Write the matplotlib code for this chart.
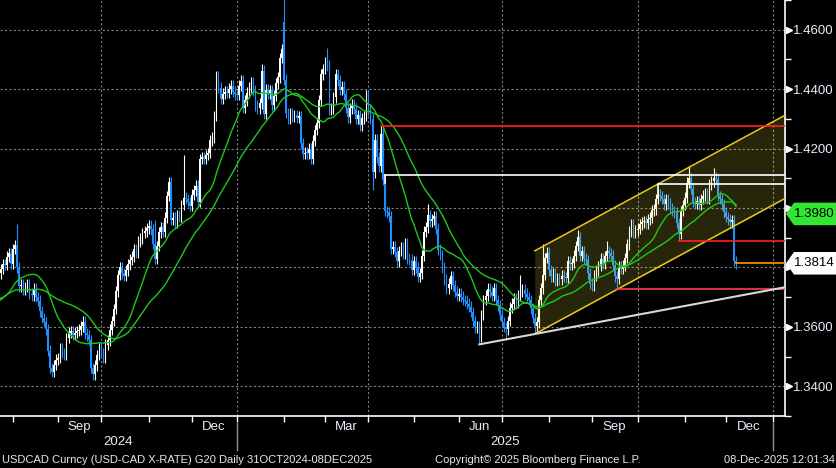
import numpy as np
import pandas as pd
import matplotlib
matplotlib.use("Agg")
import matplotlib.pyplot as plt
import matplotlib.transforms as mtransforms
from matplotlib.patches import Polygon

plt.rcParams['font.family'] = ['Liberation Sans', 'DejaVu Sans']

# daily USDCAD closes, first value 29-May-2024 (weekdays only)
closes = [
    # 2024-05
    1.3712, 1.3688, 1.3632,
    # 2024-06
    1.3640, 1.3678, 1.3690, 1.3676, 1.3758, 1.3752, 1.3756, 1.3722, 1.3742, 1.3736,
    1.3720, 1.3712, 1.3708, 1.3700, 1.3694, 1.3652, 1.3668, 1.3708, 1.3702, 1.3680,
    # 2024-07
    1.3738, 1.3682, 1.3640, 1.3636, 1.3648, 1.3652, 1.3640, 1.3630, 1.3662, 1.3672,
    1.3686, 1.3680, 1.3692, 1.3714, 1.3728, 1.3760, 1.3780,
    1.3795, 1.3812, 1.3808, 1.3836, 1.3848, 1.3812,
    # 2024-08
    1.3862, 1.3874, 1.3800, 1.3736, 1.3742, 1.3724, 1.3734, 1.3742, 1.3712, 1.3706,
    1.3728, 1.3700, 1.3688, 1.3652, 1.3630, 1.3616, 1.3592, 1.3520, 1.3462, 1.3448,
    1.3472, 1.3490,
    # 2024-09
    1.3495, 1.3528, 1.3512, 1.3508, 1.3562, 1.3580, 1.3586, 1.3574, 1.3580, 1.3586,
    1.3590, 1.3602, 1.3618, 1.3578, 1.3572, 1.3556, 1.3462, 1.3440, 1.3470, 1.3505,
    1.3528,
    # 2024-10
    1.3512, 1.3498, 1.3540, 1.3555, 1.3590, 1.3620, 1.3660, 1.3720, 1.3775, 1.3800,
    1.3780, 1.3772, 1.3790, 1.3810, 1.3826, 1.3836, 1.3862, 1.3850, 1.3888, 1.3898,
    1.3916, 1.3922, 1.3932,
    # 2024-11
    1.3940, 1.3928, 1.3880, 1.3830, 1.3872, 1.3918, 1.3935, 1.3920, 1.3968, 1.4040,
    1.4088, 1.3960, 1.3968, 1.3950, 1.3975, 1.3972, 1.4010, 1.4035, 1.4030, 1.4020,
    1.4008,
    # 2024-12
    1.4045, 1.4060, 1.4075, 1.4020, 1.4165, 1.4172, 1.4165, 1.4178, 1.4185, 1.4228,
    1.4238, 1.4310, 1.4442, 1.4405, 1.4368, 1.4385, 1.4392, 1.4388, 1.4402, 1.4412,
    1.4392, 1.4382,
    # 2025-01
    1.4380, 1.4412, 1.4428, 1.4338, 1.4362, 1.4388, 1.4405, 1.4422, 1.4395, 1.4345,
    1.4335, 1.4352, 1.4462, 1.4318, 1.4398, 1.4386, 1.4396, 1.4346, 1.4378, 1.4420,
    1.4440, 1.4505, 1.4535,
    # 2025-02
    1.4432, 1.4320, 1.4302, 1.4318, 1.4306, 1.4312, 1.4304, 1.4310, 1.4218, 1.4182,
    1.4186, 1.4184, 1.4200, 1.4166, 1.4226, 1.4262, 1.4286, 1.4362, 1.4450, 1.4468,
    # 2025-03
    1.4490, 1.4480, 1.4332, 1.4336, 1.4372, 1.4450, 1.4430, 1.4398, 1.4408, 1.4382,
    1.4338, 1.4305, 1.4336, 1.4348, 1.4334, 1.4300, 1.4312, 1.4278, 1.4302, 1.4310,
    1.4378,
    # 2025-04
    1.4330, 1.4300, 1.4120, 1.4230, 1.4170, 1.4140, 1.4250, 1.4095, 1.3990, 1.3985,
    1.3972, 1.3862, 1.3870, 1.3852, 1.3820, 1.3855, 1.3868, 1.3845, 1.3880, 1.3830,
    1.3826, 1.3792,
    # 2025-05
    1.3822, 1.3800, 1.3768, 1.3780, 1.3840, 1.3920, 1.3935, 1.3975, 1.3955, 1.3962,
    1.3972, 1.3930, 1.3860, 1.3842, 1.3800, 1.3760, 1.3730, 1.3745, 1.3770, 1.3740,
    1.3718, 1.3705,
    # 2025-06
    1.3712, 1.3702, 1.3690, 1.3688, 1.3678, 1.3668, 1.3650, 1.3620, 1.3598, 1.3602,
    1.3568, 1.3640, 1.3690, 1.3705, 1.3728, 1.3718, 1.3705, 1.3730, 1.3690, 1.3672,
    1.3640,
    # 2025-07
    1.3615, 1.3600, 1.3592, 1.3620, 1.3665, 1.3678, 1.3695, 1.3680, 1.3705, 1.3720,
    1.3725, 1.3712, 1.3700, 1.3690, 1.3662, 1.3630, 1.3602, 1.3615, 1.3690, 1.3730,
    1.3775, 1.3832, 1.3850,
    # 2025-08
    1.3790, 1.3770, 1.3780, 1.3755, 1.3762, 1.3760, 1.3772, 1.3768, 1.3765, 1.3820,
    1.3810, 1.3815, 1.3840, 1.3872, 1.3902, 1.3838, 1.3855, 1.3830, 1.3825, 1.3780,
    1.3745,
    # 2025-09
    1.3740, 1.3772, 1.3790, 1.3805, 1.3830, 1.3812, 1.3838, 1.3855, 1.3848, 1.3840,
    1.3808, 1.3770, 1.3762, 1.3802, 1.3795, 1.3806, 1.3832, 1.3878, 1.3920, 1.3945,
    1.3918, 1.3925,
    # 2025-10
    1.3930, 1.3945, 1.3952, 1.3955, 1.3948, 1.3962, 1.3968, 1.3992, 1.3996, 1.4030,
    1.4045, 1.4040, 1.4030, 1.4012, 1.4030, 1.4015, 1.4000, 1.3990, 1.3985, 1.3950,
    1.3912, 1.3990, 1.4010,
    # 2025-11
    1.4035, 1.4085, 1.4100, 1.4065, 1.4020, 1.4015, 1.4022, 1.4010, 1.4030, 1.4042,
    1.4048, 1.4030, 1.4078, 1.4090, 1.4102, 1.4098, 1.4040, 1.4030, 1.4012, 1.3985,
    # 2025-12
    1.3970, 1.3962, 1.3952, 1.3958, 1.3822, 1.3814,
]

# gap opens (otherwise open = previous close)
open_dates = ['2025-02-03']
open_vals = [1.4626]

# notable wicks
hi_dates = ['2024-08-05', '2024-11-06', '2024-11-26', '2025-01-17', '2025-02-03', '2025-03-04',
            '2025-04-09', '2025-05-12', '2025-07-14', '2025-07-29', '2025-08-21', '2025-09-10',
            '2025-11-05', '2025-11-21']
hi_vals = [1.3946, 1.3960, 1.4178, 1.4485, 1.4793, 1.4540,
           1.4277, 1.4015, 1.3776, 1.3880, 1.3925, 1.3888,
           1.4143, 1.4133]
lo_dates = ['2024-09-25', '2025-04-03', '2025-06-16', '2025-07-03', '2025-07-23', '2025-09-17', '2025-10-29']
lo_vals = [1.3420, 1.4060, 1.3541, 1.3557, 1.3576, 1.3728, 1.3889]

# drawn levels
level_dates = ['2025-04-09', '2025-04-11', '2025-10-15', '2025-10-29', '2025-09-17', '2025-12-08']
level_vals = [1.4276, 1.4111, 1.4082, 1.3889, 1.3728, 1.3814]
level_stub = [None, 1.4084, 1.4043, None, None, None]
level_colors = ['#ff2020', '#ffffff', '#ffffff', '#ff2020', '#ff3a55', '#ff9a00']

trend_dates = ['2025-06-16', '2026-01-30']
trend_vals = [1.3541, 1.3753]

chan_dates = ['2025-07-23', '2026-01-30']
chan_upper = [1.3856, 1.4369]
chan_lower = [1.3576, 1.4089]

tag_vals = [1.3980, 1.3814]
tag_colors = ['#33e633', '#ffffff']

yticks = [1.34, 1.36, 1.38, 1.40, 1.42, 1.44, 1.46]
ytick_labels = ['1.3400', '1.3600', '', '', '1.4200', '1.4400', '1.4600']
month_labels = ['Sep', 'Dec', 'Mar', 'Jun', 'Sep', 'Dec']
month_label_dates = ['2024-09-01', '2024-12-01', '2025-03-01', '2025-06-01', '2025-09-01', '2025-12-01']

days = pd.bdate_range('2024-05-29', '2026-03-31')
def pos(d):
    return days.searchsorted(pd.Timestamp(d))

c = np.array(closes)
x = np.arange(len(c))
o = np.r_[c[0], c[:-1]]
for d, v in zip(open_dates, open_vals):
    o[pos(d)] = v
wick = 0.0018
hi = np.maximum(o, c) + wick
lo = np.minimum(o, c) - wick
for d, v in zip(hi_dates, hi_vals):
    hi[pos(d)] = v
for d, v in zip(lo_dates, lo_vals):
    lo[pos(d)] = v
up = c >= o
body_lo = np.minimum(o, c)
body_h = np.maximum(np.abs(c - o), 0.0003)

BLUE = '#1e8fff'
TXT = '#e6eef8'
fig = plt.figure(figsize=(8.37, 4.68), dpi=100, facecolor='black')
ax = fig.add_axes([0, 52 / 468, 785 / 837, 416 / 468], facecolor='black')

xl = (pos('2024-07-24') - 0.35, pos('2026-01-08') + 0.8)
ax.set_xlim(xl)
ax.set_ylim(1.33131, 1.46929)

# grid
gstyle = dict(color='#808080', ls=(0, (2, 2)), lw=0.8, zorder=0.5)
for v in yticks:
    ax.axhline(v, **gstyle)
for d in ['2024-10-01', '2025-01-01', '2025-04-01', '2025-07-01', '2025-10-01', '2026-01-01']:
    ax.axvline(pos(d), **gstyle)

# candles
ax.vlines(x[up], lo[up], hi[up], color='white', lw=0.8, zorder=2)
ax.vlines(x[~up], lo[~up], hi[~up], color=BLUE, lw=0.8, zorder=2)
ax.bar(x[up], body_h[up], bottom=body_lo[up], width=0.75, color='white', lw=0, zorder=2)
ax.bar(x[~up], body_h[~up], bottom=body_lo[~up], width=0.75, color=BLUE, lw=0, zorder=2)

# channel
cx = [pos(d) for d in chan_dates]
ax.fill_between(cx, chan_lower, chan_upper, color='#fff040', alpha=0.16, lw=0, zorder=2.5)
ax.plot(cx, chan_upper, color='#e8cc1a', lw=1.1, zorder=5)
ax.plot(cx, chan_lower, color='#e8cc1a', lw=1.1, zorder=5)

# moving averages
s = pd.Series(c)
for n in (20, 40):
    ax.plot(x, s.rolling(n).mean(), color='#1ec81e', lw=1.0, zorder=4)

# levels
for d, v, st, col in zip(level_dates, level_vals, level_stub, level_colors):
    x0 = pos(d)
    ax.plot([x0, xl[1] + 5], [v, v], color=col, lw=1.2, zorder=5)
    if st is not None:
        ax.plot([x0, x0], [v, st], color=col, lw=1.2, zorder=5)

ax.plot([pos(d) for d in trend_dates], trend_vals, color='#d8d8d8', lw=1.5, zorder=5)

# axes styling
for sp in ['left', 'top']:
    ax.spines[sp].set_visible(False)
for sp in ['right', 'bottom']:
    ax.spines[sp].set_color('white')
    ax.spines[sp].set_linewidth(1.2)

ax.yaxis.tick_right()
ax.set_yticks(yticks)
ax.set_yticklabels(ytick_labels)
ax.set_yticks(np.arange(1.33, 1.471, 0.02), minor=True)
ax.tick_params(axis='y', which='major', length=0, pad=6, labelsize=9.5, labelcolor=TXT)
ax.tick_params(axis='y', which='minor', length=4, width=1, color='white', direction='out')

tri = ax.get_yaxis_transform() + mtransforms.ScaledTranslation(4 / 100, 0, fig.dpi_scale_trans)
ax.plot(np.ones(len(yticks)), yticks, ls='none', marker='>', ms=5, color='white',
        transform=tri, clip_on=False, zorder=6)

mstarts = pd.date_range('2024-08-01', '2026-01-01', freq='MS')
ax.set_xticks([pos(d) for d in mstarts])
ax.set_xticklabels([])
ax.tick_params(axis='x', length=4, width=1, color='white', direction='out')

bt = mtransforms.blended_transform_factory(ax.transData, ax.transAxes)
for lab, d in zip(month_labels, month_label_dates):
    a = pos(d)
    b = pos(pd.Timestamp(d) + pd.offsets.MonthBegin(1))
    ax.text((a + b) / 2 - 0.5, -11 / 416, lab, transform=bt, ha='center', va='center',
            fontsize=9.5, color=TXT)

ynext = pos('2025-01-01')
yend = pos('2026-01-01')
ax.text((xl[0] + ynext) / 2, -26 / 416, '2024', transform=bt, ha='center', va='center',
        fontsize=9.5, color=TXT)
ax.text((ynext + yend) / 2, -26 / 416, '2025', transform=bt, ha='center', va='center',
        fontsize=9.5, color=TXT)
for xx in (ynext, yend):
    ax.plot([xx, xx], [-7 / 416, -34 / 416], transform=bt, clip_on=False, color='#909090', lw=1)

# value tags on the right
ft = mtransforms.blended_transform_factory(fig.transFigure, ax.transData)
hh = 0.0038
for v, col in zip(tag_vals, tag_colors):
    verts = [(786 / 837, v), (794 / 837, v + hh), (1.0, v + hh), (1.0, v - hh), (794 / 837, v - hh)]
    fig.add_artist(Polygon(verts, closed=True, transform=ft, facecolor=col, edgecolor='none', zorder=3))
    fig.text(814 / 837, v, '%.4f' % v, transform=ft, ha='center', va='center',
             fontsize=9.5, color='black', zorder=4)

# footer
fy = 1 - 460 / 468
fig.text(2 / 837, fy, 'USDCAD Curncy (USD-CAD X-RATE) G20 Daily 31OCT2024-08DEC2025',
         ha='left', va='center', fontsize=8, color='#e8e8e8')
fig.text(435 / 837, fy, 'Copyright\u00a9 2025 Bloomberg Finance L.P.',
         ha='left', va='center', fontsize=8, color='#e8e8e8')
fig.text(835 / 837, fy, '08-Dec-2025 12:01:34',
         ha='right', va='center', fontsize=8, color='#e8e8e8')

fig.savefig('out.png', dpi=100, facecolor='black')
